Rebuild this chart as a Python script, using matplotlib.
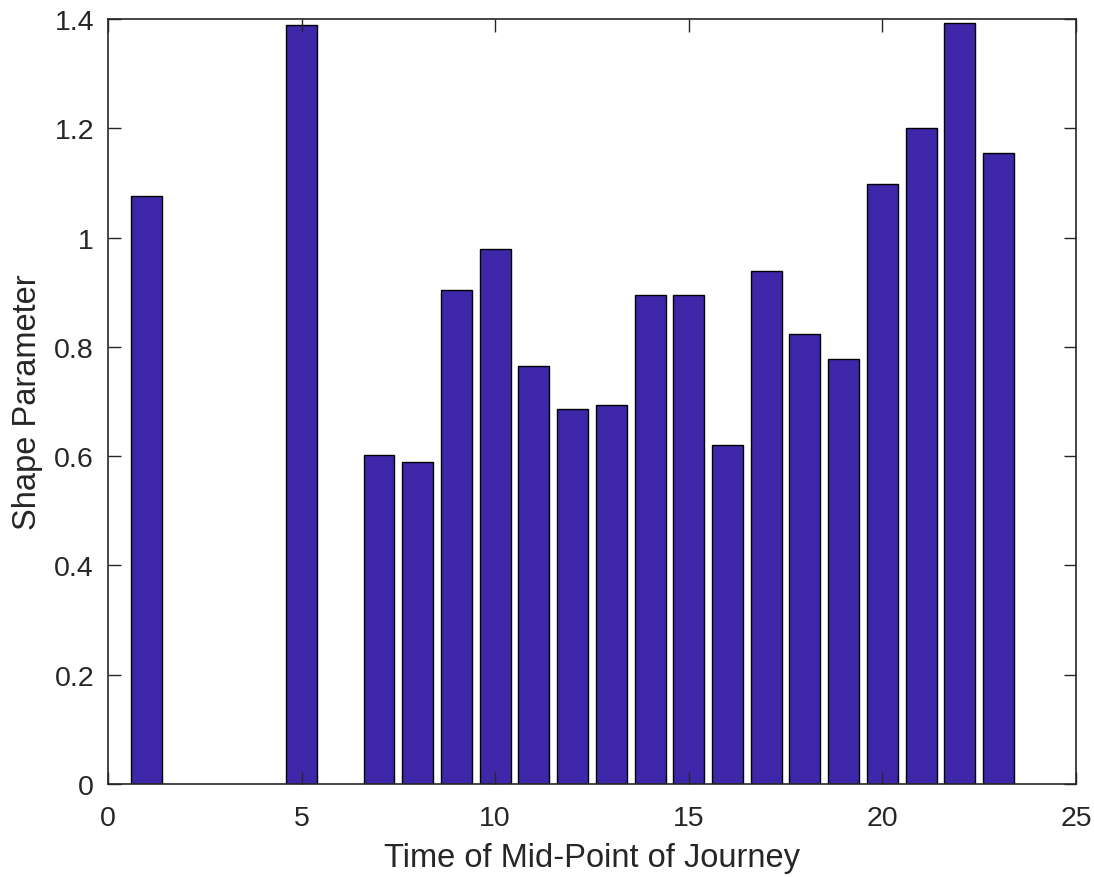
import numpy as np
import matplotlib.pyplot as plt

plt.rcParams['font.family'] = ['Liberation Sans', 'DejaVu Sans']

hours = [1, 5, 7, 8, 9, 10, 11, 12, 13, 14, 15, 16, 17, 18, 19, 20, 21, 22, 23]
shape = [1.077, 1.389, 0.603, 0.589, 0.905, 0.980, 0.765, 0.686, 0.693,
         0.895, 0.895, 0.620, 0.939, 0.823, 0.777, 1.098, 1.201, 1.392, 1.154]

bar_color = '#3e26a8'
edge_color = '#262626'

fig = plt.figure(figsize=(10.94, 8.78), dpi=100)
ax = fig.add_axes([0.0987, 0.1059, 0.8848, 0.8713])

ax.bar(hours, shape, width=0.8, color=bar_color, edgecolor='black', linewidth=1.0)

ax.set_xlim(0, 25)
ax.set_ylim(0, 1.4)
ax.set_xticks(np.arange(0, 26, 5))
ax.set_yticks(np.arange(0, 1.41, 0.2))
ax.set_yticklabels(['0', '0.2', '0.4', '0.6', '0.8', '1', '1.2', '1.4'])
ax.set_axisbelow(False)

ax.tick_params(direction='in', top=True, right=True, length=9, width=1,
               color=edge_color, labelsize=20.5, labelcolor=edge_color)
ax.tick_params(axis='x', pad=15)
ax.tick_params(axis='y', pad=10)
for s in ax.spines.values():
    s.set_color(edge_color)
    s.set_linewidth(1.2)

ax.set_xlabel('Time of Mid-Point of Journey', fontsize=23.5, color=edge_color, labelpad=8)
ax.set_ylabel('Shape Parameter', fontsize=23.5, color=edge_color, labelpad=8)

fig.savefig('out.png', dpi=100)
